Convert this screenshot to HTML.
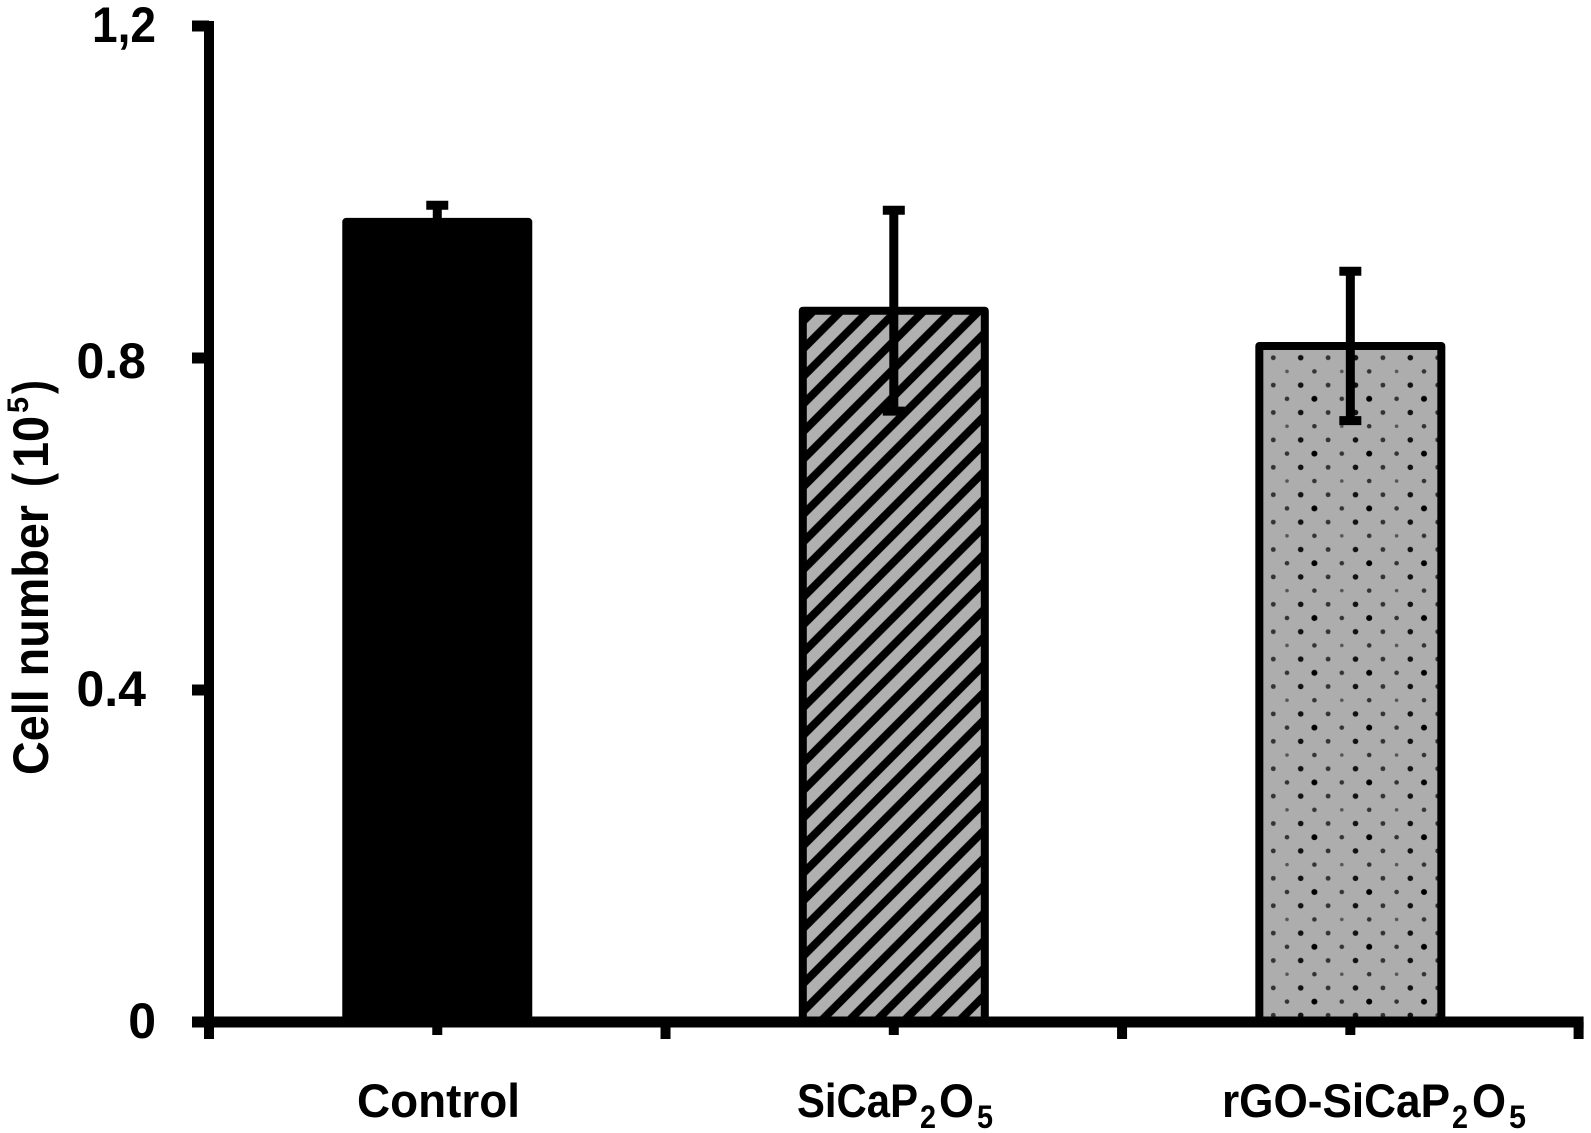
<!DOCTYPE html>
<html lang="en">
<head>
<meta charset="utf-8">
<title>Cell number bar chart</title>
<style>
html,body{margin:0;padding:0;background:#fff;}
#chart{display:block;width:1591px;height:1133px;background:#fff;}
text{font-family:"Liberation Sans",sans-serif;font-weight:bold;fill:#000;}
</style>
</head>
<body>
<svg id="chart" xmlns="http://www.w3.org/2000/svg" width="1591" height="1133" viewBox="0 0 1591 1133">
  <defs>
    <pattern id="hatch" patternUnits="userSpaceOnUse" x="20.4" y="0" width="27.6" height="27.6">
      <rect width="27.6" height="27.6" fill="#b0b0b0"/>
      <path d="M-6.9,6.9 L6.9,-6.9 M-6.9,34.5 L34.5,-6.9 M20.7,34.5 L34.5,20.7" stroke="#000" stroke-width="8" fill="none"/>
    </pattern>
    <pattern id="dots" patternUnits="userSpaceOnUse" x="1266.45" y="350.85" width="54.8" height="54.8">
      <rect width="54.8" height="54.8" fill="#adadad"/>
      <circle cx="6.85" cy="6.85" r="2.4" fill="#333"/>
      <circle cx="34.25" cy="6.85" r="2.8" fill="#111"/>
      <circle cx="6.85" cy="34.25" r="2.4" fill="#333"/>
      <circle cx="34.25" cy="34.25" r="2.8" fill="#111"/>
      <circle cx="20.55" cy="20.55" r="1.8" fill="#555"/>
      <circle cx="47.95" cy="20.55" r="2.3" fill="#333"/>
      <circle cx="20.55" cy="47.95" r="2.3" fill="#333"/>
      <circle cx="47.95" cy="47.95" r="3" fill="#000"/>
    </pattern>
  </defs>
  <g id="bars"></g>
  <g id="errors"></g>
  <g id="axes"></g>
  <g id="ylabels"></g>

  <g transform="translate(48,775) rotate(-90)" font-size="50">
    <text x="0" y="0" textLength="270" lengthAdjust="spacingAndGlyphs">Cell number</text>
    <text x="288" y="0" textLength="14" lengthAdjust="spacingAndGlyphs">(</text>
    <text x="307" y="0" textLength="52" lengthAdjust="spacingAndGlyphs">10</text>
    <text x="362" y="-20" font-size="30" textLength="16" lengthAdjust="spacingAndGlyphs">5</text>
    <text x="381" y="0" textLength="14" lengthAdjust="spacingAndGlyphs">)</text>
  </g>

  <text x="357" y="1117" font-size="47" textLength="163" lengthAdjust="spacingAndGlyphs">Control</text>

  <g>
    <text x="797" y="1117" font-size="47" textLength="121" lengthAdjust="spacingAndGlyphs">SiCaP</text>
    <text x="920" y="1128" font-size="32" textLength="16" lengthAdjust="spacingAndGlyphs">2</text>
    <text x="939" y="1117" font-size="47" textLength="35" lengthAdjust="spacingAndGlyphs">O</text>
    <text x="977" y="1128" font-size="32" textLength="16" lengthAdjust="spacingAndGlyphs">5</text>
  </g>

  <g>
    <text x="1222" y="1117" font-size="47" textLength="228" lengthAdjust="spacingAndGlyphs">rGO-SiCaP</text>
    <text x="1452" y="1128" font-size="32" textLength="16" lengthAdjust="spacingAndGlyphs">2</text>
    <text x="1472" y="1117" font-size="47" textLength="34" lengthAdjust="spacingAndGlyphs">O</text>
    <text x="1509" y="1128" font-size="32" textLength="17" lengthAdjust="spacingAndGlyphs">5</text>
  </g>
</svg>
<script>
const categories = ["Control", "SiCaP2O5", "rGO-SiCaP2O5"];
const cellCounts = [0.964, 0.857, 0.8145];
const cellErrors = [0.02, 0.121, 0.09];
const yTickValues = [0, 0.4, 0.8, 1.2];
const yTickLabels = ["0", "0.4", "0.8", "1,2"];

const NS = "http://www.w3.org/2000/svg";
const AXIS_LEFT = 209, AXIS_RIGHT = 1578.6, BASELINE = 1022, PX_PER_UNIT = 830;
const categoryStep = (AXIS_RIGHT - AXIS_LEFT) / categories.length;
const fills = ["#000", "url(#hatch)", "url(#dots)"];

function yScale(v) { return BASELINE - v * PX_PER_UNIT; }
function xBoundary(i) { return AXIS_LEFT + i * categoryStep; }
function xCenter(i) { return xBoundary(i) + categoryStep / 2; }
function make(tag, parent, attrs) {
  const el = document.createElementNS(NS, tag);
  Object.keys(attrs).forEach(function (k) { el.setAttribute(k, attrs[k]); });
  parent.appendChild(el);
  return el;
}

const barsGroup = document.getElementById("bars");
const errorsGroup = document.getElementById("errors");
const axesGroup = document.getElementById("axes");
const labelsGroup = document.getElementById("ylabels");

categories.forEach(function (name, i) {
  const top = yScale(cellCounts[i]);
  const cx = xCenter(i);
  const bar = make("rect", barsGroup, {
    x: cx - 91, y: top, width: 182, height: BASELINE - top,
    fill: fills[i], stroke: "#000", "stroke-width": 8, "stroke-linejoin": "round"
  });
  
  

  const hi = yScale(cellCounts[i] + cellErrors[i]);
  const lo = yScale(cellCounts[i] - cellErrors[i]);
  const whisker = make("path", errorsGroup, {
    d: "M" + cx + "," + hi + " V" + lo + " M" + (cx - 11) + "," + hi + " H" + (cx + 11) + " M" + (cx - 11) + "," + lo + " H" + (cx + 11),
    stroke: "#000", "stroke-width": 9, fill: "none"
  });
  
  
});

const yAxisLine = make("rect", axesGroup, {
  x: AXIS_LEFT - 5, y: yScale(1.2) - 5, width: 10, height: BASELINE - yScale(1.2) + 17, fill: "#000"
});



const xAxisLine = make("rect", axesGroup, {
  x: 192, y: BASELINE - 5.5, width: AXIS_RIGHT + 5 - 192, height: 11, fill: "#000"
});



function labelRight(label) { return label.length > 1 && label !== "1,2" ? 146 : 156; }
function labelDrop(label) { return label === "0.8" ? 20 : 16; }

yTickValues.forEach(function (v, i) {
  const y = yScale(v);
  const tick = make("rect", axesGroup, { x: 192, y: y - 5.5, width: 17, height: 11, fill: "#000" });
  
  

  const label = make("text", labelsGroup, {
    x: labelRight(yTickLabels[i]), y: y + labelDrop(yTickLabels[i]),
    "text-anchor": "end", "font-size": 50
  });
  label.textContent = yTickLabels[i];
  if (yTickLabels[i] === "1,2") {
    label.setAttribute("textLength", 64);
    label.setAttribute("lengthAdjust", "spacingAndGlyphs");
  }
  
  
});

for (let i = 0; i <= categories.length; i++) {
  const longTick = make("rect", axesGroup, {
    x: xBoundary(i) - 5, y: BASELINE, width: 10, height: 17, fill: "#000"
  });
  
  
  if (i < categories.length) {
    const shortTick = make("rect", axesGroup, {
      x: xCenter(i) - 5, y: BASELINE, width: 10, height: 13, fill: "#000"
    });
    
    
  }
}
</script>
</body>
</html>
